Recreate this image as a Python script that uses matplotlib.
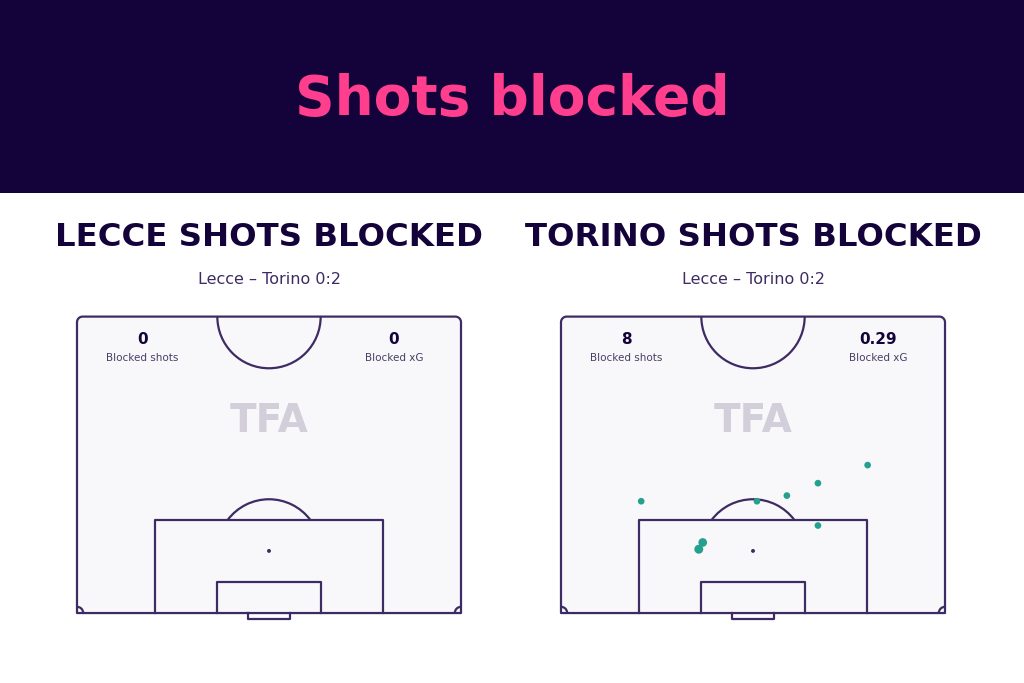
import matplotlib
matplotlib.use("Agg")
import matplotlib.pyplot as plt
import numpy as np
from matplotlib.patches import Arc, Circle, Polygon

# match info
teams = ["LECCE", "TORINO"]
match_label = "Lecce \u2013 Torino 0:2"
blocked_shots = [0, 8]
blocked_xg = ["0", "0.29"]

# blocked shots against Torino (x across pitch 0-68, y from goal line 0-52.5)
torino_x = [14.2, 34.7, 40.0, 45.5, 54.3, 45.5, 25.1, 24.4]
torino_y = [19.8, 19.8, 20.8, 23.0, 26.2, 15.5, 12.5, 11.3]
torino_xg = [0.02, 0.02, 0.02, 0.02, 0.02, 0.02, 0.08, 0.09]
shots = [([], [], []), (torino_x, torino_y, torino_xg)]

navy = "#14033a"
pink = "#ff3e8d"
line_c = "#3e2b63"
pitch_bg = "#f8f8fa"
dot_c = "#26a08e"

fig = plt.figure(figsize=(10.24, 6.83), dpi=100)
fig.patch.set_facecolor("white")

# header band
hdr = fig.add_axes([0, 1 - 193 / 683, 1, 193 / 683])
hdr.set_facecolor(navy)
hdr.set_xticks([]); hdr.set_yticks([])
for s in hdr.spines.values():
    s.set_visible(False)
hdr.text(0.5, 0.48, "Shots blocked", color=pink, fontsize=39.5, fontweight="bold",
         ha="center", va="center", transform=hdr.transAxes)


def outline(W, L, r):
    # touchlines + halfway line with rounded top corners, square at goal line
    t = np.linspace(np.pi, np.pi / 2, 12)
    left = np.column_stack([r + r * np.cos(t), L - r + r * np.sin(t)])
    t = np.linspace(np.pi / 2, 0, 12)
    right = np.column_stack([W - r + r * np.cos(t), L - r + r * np.sin(t)])
    return np.vstack([[[0, 0]], left, right, [[W, 0]]])


def draw_pitch(ax):
    W, L = 68, 52.5
    kw = dict(color=line_c, lw=1.6, zorder=2)
    ax.add_patch(Polygon(outline(W, L, 1.0), closed=True, fc=pitch_bg, ec=line_c,
                         lw=1.6, joinstyle="round", zorder=1))
    # centre circle
    ax.add_patch(Arc((W / 2, L), 18.3, 18.3, theta1=180, theta2=360, **kw))
    # penalty box
    ax.plot([W / 2 - 20.16, W / 2 - 20.16, W / 2 + 20.16, W / 2 + 20.16],
            [0, 16.5, 16.5, 0], solid_joinstyle="round", **kw)
    # six yard box
    ax.plot([W / 2 - 9.16, W / 2 - 9.16, W / 2 + 9.16, W / 2 + 9.16],
            [0, 5.5, 5.5, 0], solid_joinstyle="round", **kw)
    # goal
    ax.plot([W / 2 - 3.66, W / 2 - 3.66, W / 2 + 3.66, W / 2 + 3.66],
            [0, -1.1, -1.1, 0], solid_joinstyle="round", **kw)
    # penalty arc
    ax.add_patch(Arc((W / 2, 11), 18.3, 18.3, theta1=37, theta2=143, **kw))
    ax.add_patch(Circle((W / 2, 11), 0.22, color=line_c, zorder=2))
    # corner arcs
    ax.add_patch(Arc((0, 0), 2.2, 2.2, theta1=0, theta2=90, **kw))
    ax.add_patch(Arc((W, 0), 2.2, 2.2, theta1=90, theta2=180, **kw))
    ax.set_xlim(-2, 70)
    ax.set_ylim(-2, 54)
    ax.axis("off")


for i in range(2):
    left = (65.7 + i * 484) / 1024
    ax = fig.add_axes([left, 0.0859, 406.6 / 1024, 316.2 / 683])
    draw_pitch(ax)
    ax.text(34, 34, "TFA", color="#d2cfda", fontsize=28, fontweight="bold",
            ha="center", va="center", zorder=1.5)
    ax.text(11.6, 48.5, str(blocked_shots[i]), color=navy, fontsize=11,
            fontweight="bold", ha="center", va="center", zorder=3)
    ax.text(11.6, 45.2, "Blocked shots", color="#4a3d66", fontsize=7.5,
            ha="center", va="center", zorder=3)
    ax.text(56.1, 48.5, blocked_xg[i], color=navy, fontsize=11,
            fontweight="bold", ha="center", va="center", zorder=3)
    ax.text(56.1, 45.2, "Blocked xG", color="#4a3d66", fontsize=7.5,
            ha="center", va="center", zorder=3)
    xs, ys, xg = shots[i]
    if xs:
        ax.scatter(xs, ys, s=[18 + 260 * v for v in xg], color=dot_c,
                   edgecolors="none", zorder=4)
    cx = left + 0.5 * 406.6 / 1024
    fig.text(cx, 1 - 238 / 683, teams[i] + " SHOTS BLOCKED", color=navy,
             fontsize=23.3, fontweight="bold", ha="center", va="center")
    fig.text(cx, 1 - 280 / 683, match_label, color=line_c, fontsize=11.5,
             ha="center", va="center")

fig.savefig("out.png", dpi=100)
